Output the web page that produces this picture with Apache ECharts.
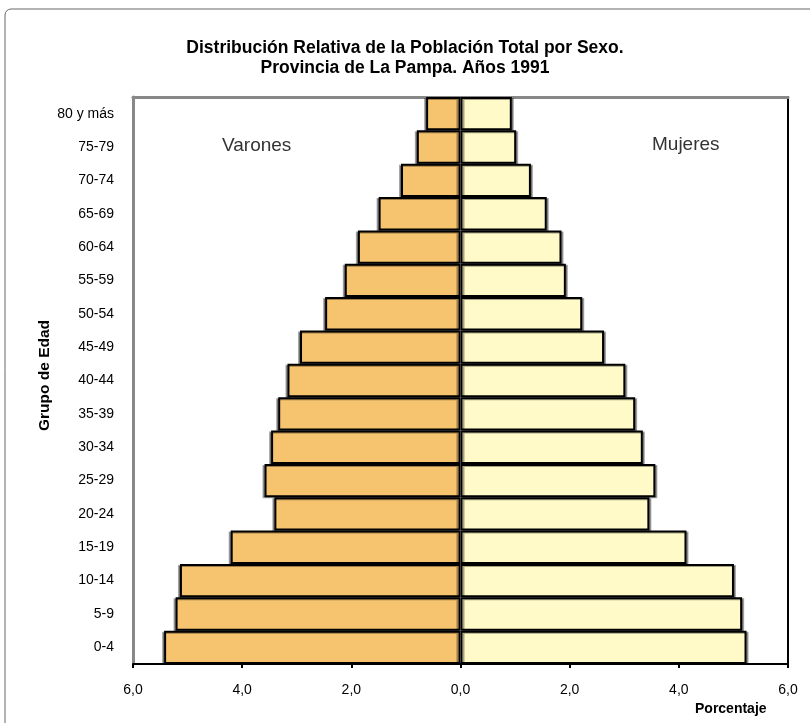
<!DOCTYPE html>
<html>
<head>
<meta charset="utf-8">
<script src="https://cdn.jsdelivr.net/npm/echarts@6/dist/echarts.min.js"></script>
<style>
  html, body { margin: 0; padding: 0; background: #fff; }
  #chart { width: 810px; height: 723px; }
</style>
</head>
<body>
<div id="chart"></div>
<script>
// grupos de edad, de abajo hacia arriba
const grupos = ['0-4', '5-9', '10-14', '15-19', '20-24', '25-29', '30-34', '35-39', '40-44',
  '45-49', '50-54', '55-59', '60-64', '65-69', '70-74', '75-79', '80 y más']
// porcentajes
const varones = [5.43, 5.22, 5.14, 4.21, 3.41, 3.59, 3.47, 3.34, 3.17, 2.94, 2.48, 2.12, 1.88, 1.50, 1.09, 0.80, 0.63]
const mujeres = [5.24, 5.16, 5.01, 4.14, 3.46, 3.57, 3.34, 3.20, 3.02, 2.63, 2.23, 1.93, 1.85, 1.58, 1.29, 1.02, 0.94]
const ticksX = [-6, -4, -2, 0, 2, 4, 6]

const font = 'Liberation Sans, Arial, sans-serif'
let chart = echarts.init(document.getElementById('chart'))

let fmt = v => Math.abs(v).toFixed(1).replace('.', ',')

let option = {
  animation: false,
  textStyle: { fontFamily: font },
  title: {
    text: 'Distribución Relativa de la Población Total por Sexo.\nProvincia de La Pampa. Años 1991',
    left: 'center',
    top: 33,
    textStyle: { fontSize: 17.5, fontWeight: 'bold', color: '#000', lineHeight: 20, fontFamily: font }
  },
  graphic: [
    { type: 'rect', shape: { x: 5, y: 9, width: 830, height: 740, r: 6 }, style: { fill: 'none', stroke: '#666', lineWidth: 1 }, z: -1 },
    { type: 'text', left: 222, top: 136, style: { text: 'Varones', font: '19px ' + font, fill: '#333' } },
    { type: 'text', left: 652, top: 135, style: { text: 'Mujeres', font: '19px ' + font, fill: '#333' } },
    { type: 'text', left: 695, top: 702, style: { text: 'Porcentaje', font: 'bold 14px ' + font, fill: '#000' } }
  ],
  grid: { left: 133, right: 22, top: 97, bottom: 59 },
  xAxis: [{
    type: 'value',
    min: ticksX[0],
    max: ticksX[ticksX.length - 1],
    interval: 2,
    axisLine: { show: true, lineStyle: { color: '#000', width: 2 } },
    axisTick: { show: true, length: 4, lineStyle: { color: '#000', width: 2 } },
    splitLine: { show: false },
    axisLabel: { formatter: fmt, fontSize: 14, color: '#000', margin: 19, fontFamily: font }
  }, {
    type: 'value',
    position: 'top',
    min: ticksX[0],
    max: ticksX[ticksX.length - 1],
    axisLine: { show: true, lineStyle: { color: '#888', width: 3 } },
    axisTick: { show: false },
    axisLabel: { show: false },
    splitLine: { show: false }
  }],
  yAxis: [{
    type: 'category',
    data: grupos,
    name: 'Grupo de Edad',
    nameLocation: 'middle',
    nameRotate: 90,
    nameGap: 80,
    nameMoveOverlap: false,
    nameTextStyle: { fontSize: 15.5, fontWeight: 'bold', color: '#000', fontFamily: font, padding: [0, 0, 0, 10] },
    axisLine: { show: true, onZero: false, lineStyle: { color: '#888', width: 3 } },
    axisTick: { show: false },
    axisLabel: { fontSize: 14, color: '#000', margin: 19, fontFamily: font, padding: [4, 0, 0, 0] }
  }, {
    type: 'category',
    data: grupos,
    position: 'right',
    axisLine: { show: true, onZero: false, lineStyle: { color: '#000', width: 2 } },
    axisTick: { show: false },
    axisLabel: { show: false }
  }],
  series: [{
    name: 'Varones',
    type: 'bar',
    stack: 'pop',
    barCategoryGap: '0%',
    data: varones.map(v => -v),
    itemStyle: {
      color: '#F6C36E',
      borderColor: '#000',
      borderWidth: 2,
      shadowColor: 'rgba(0,0,0,0.35)',
      shadowOffsetX: -2,
      shadowOffsetY: 1
    }
  }, {
    name: 'Mujeres',
    type: 'bar',
    stack: 'pop',
    barCategoryGap: '0%',
    data: mujeres,
    itemStyle: {
      color: '#FFFAC8',
      borderColor: '#000',
      borderWidth: 2,
      shadowColor: 'rgba(0,0,0,0.35)',
      shadowOffsetX: 2,
      shadowOffsetY: 1
    }
  }]
}

chart.setOption(option)
</script>
</body>
</html>
